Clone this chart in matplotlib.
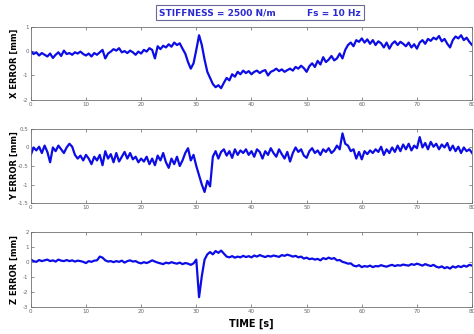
import matplotlib
matplotlib.use("Agg")
import matplotlib.pyplot as plt
import numpy as np

# time base (Fs shown = 10 Hz, values read every 0.5 s)
time_s = np.arange(0, 80.01, 0.5)

x_error = [
    0.00, -0.12, -0.05, -0.18, -0.08, -0.15, -0.22, -0.10, -0.28, -0.15,
    -0.05, -0.20, 0.02, -0.12, -0.08, -0.15, -0.05, -0.10, -0.02, -0.12,
    -0.18, -0.10, -0.22, -0.08, -0.15, -0.05, 0.05, -0.30, -0.10, -0.02,
    0.08, 0.02, 0.12, -0.05, 0.00, -0.08, 0.02, -0.05, -0.15, -0.02,
    -0.10, 0.05, -0.02, 0.12, 0.05, -0.30, 0.20, 0.08, 0.22, 0.15,
    0.28, 0.18, 0.35, 0.25, 0.32, 0.10, -0.10, -0.45, -0.72, -0.50,
    0.05, 0.65, 0.25, -0.35, -0.85, -1.10, -1.35, -1.48, -1.40, -1.52,
    -1.30, -1.10, -1.20, -0.95, -1.05, -0.85, -0.95, -0.80, -0.90, -0.82,
    -0.95, -0.85, -0.80, -0.90, -0.82, -0.78, -1.00, -0.85, -0.80, -0.72,
    -0.82, -0.75, -0.85, -0.78, -0.72, -0.80, -0.65, -0.72, -0.60, -0.70,
    -0.85, -0.62, -0.50, -0.65, -0.40, -0.55, -0.25, -0.45, -0.35, -0.20,
    -0.38, -0.30, -0.10, -0.30, 0.05, 0.25, 0.35, 0.20, 0.45, 0.38,
    0.52, 0.35, 0.48, 0.30, 0.45, 0.25, 0.40, 0.32, 0.15, 0.35,
    0.10, 0.30, 0.40, 0.25, 0.38, 0.30, 0.20, 0.35, 0.15, 0.28,
    0.10, 0.35, 0.45, 0.30, 0.50, 0.42, 0.55, 0.48, 0.62, 0.40,
    0.50, 0.30, 0.15, 0.45, 0.60, 0.52, 0.65, 0.45, 0.55, 0.38,
    0.25,
]

y_error = [
    -0.20, 0.00, -0.08, 0.02, -0.15, 0.05, -0.12, -0.40, 0.00, -0.10,
    0.05, -0.05, -0.15, 0.00, 0.10, 0.02, -0.20, -0.30, -0.22, -0.35,
    -0.20, -0.30, -0.45, -0.25, -0.35, -0.20, -0.48, -0.10, -0.30, -0.18,
    -0.40, -0.15, -0.38, -0.25, -0.12, -0.30, -0.15, -0.32, -0.25, -0.40,
    -0.30, -0.38, -0.25, -0.45, -0.30, -0.48, -0.22, -0.35, -0.15, -0.40,
    -0.55, -0.30, -0.45, -0.25, -0.50, -0.35, -0.15, -0.02, -0.35, -0.20,
    -0.50, -0.75, -1.00, -1.20, -0.90, -1.05, -0.25, -0.10, -0.30, -0.12,
    -0.05, -0.22, -0.10, -0.28, -0.05, -0.20, -0.08, -0.15, -0.05, -0.20,
    -0.10, -0.25, -0.05, -0.12, -0.30, -0.10, -0.20, -0.02, -0.15, -0.25,
    -0.05, -0.18, -0.30, -0.12, -0.38, -0.15, 0.00, -0.12, -0.05, -0.22,
    -0.28, -0.10, -0.02, -0.15, -0.08, -0.20, -0.05, -0.12, -0.02, -0.15,
    -0.08, 0.05, -0.05, 0.38, 0.10, 0.05, -0.10, -0.05, -0.30, -0.12,
    -0.32, -0.10, -0.18, -0.08, -0.15, -0.05, -0.12, 0.02, -0.20, -0.05,
    -0.15, 0.00, -0.12, 0.05, -0.10, 0.08, -0.05, 0.10, -0.08, 0.05,
    -0.02, 0.28, 0.00, 0.12, -0.05, 0.15, 0.02, 0.10, -0.05, 0.08,
    0.00, 0.12, -0.08, 0.05, -0.10, 0.02, -0.15, 0.00, -0.10, -0.05,
    -0.15,
]

z_error = [
    0.15, 0.05, 0.00, 0.12, 0.05, 0.10, 0.15, 0.05, 0.10, 0.02,
    0.15, 0.08, 0.05, 0.12, 0.05, 0.10, 0.02, 0.08, 0.05, 0.00,
    -0.08, 0.05, 0.00, 0.08, 0.10, 0.35, 0.28, 0.10, 0.02, 0.05,
    -0.02, 0.05, 0.00, 0.08, -0.05, 0.05, 0.10, 0.02, 0.05, -0.05,
    -0.10, -0.02, -0.08, 0.00, 0.10, 0.02, -0.05, -0.10, -0.15, -0.05,
    -0.10, -0.02, -0.08, -0.12, -0.05, -0.15, -0.08, -0.12, -0.20, -0.10,
    0.15, -2.35, -0.95, 0.15, 0.50, 0.65, 0.50, 0.72, 0.60, 0.75,
    0.55, 0.35, 0.30, 0.38, 0.28, 0.35, 0.30, 0.40, 0.32, 0.38,
    0.30, 0.42, 0.35, 0.45, 0.38, 0.32, 0.40, 0.35, 0.42, 0.38,
    0.33, 0.45, 0.40, 0.48, 0.42, 0.35, 0.40, 0.30, 0.35, 0.22,
    0.28, 0.18, 0.22, 0.15, 0.20, 0.10, 0.25, 0.18, 0.28, 0.20,
    0.25, 0.10, 0.12, 0.00, -0.05, -0.12, -0.10, -0.25, -0.30, -0.22,
    -0.35, -0.28, -0.32, -0.25, -0.35, -0.28, -0.30, -0.22, -0.28, -0.32,
    -0.25, -0.20, -0.28, -0.22, -0.25, -0.18, -0.22, -0.25, -0.15, -0.20,
    -0.12, -0.18, -0.25, -0.15, -0.22, -0.28, -0.20, -0.32, -0.38, -0.30,
    -0.42, -0.35, -0.45, -0.30, -0.38, -0.28, -0.35, -0.25, -0.32, -0.20,
    -0.25,
]

panels = [
    (x_error, "X ERROR [mm]", (-2, 1), [-2, -1, 0, 1], ["-2", "-1", "0", "1"]),
    (y_error, "Y ERROR [mm]", (-1.5, 0.5), [-1.5, -1, -0.5, 0, 0.5],
     ["-1.5", "-1", "-0.5", "0", "0.5"]),
    (z_error, "Z ERROR [mm]", (-3, 2), [-3, -2, -1, 0, 1, 2],
     ["-3", "-2", "-1", "0", "1", "2"]),
]
x_ticks = [0, 10, 20, 30, 40, 50, 60, 70, 80]

# axes boxes in figure fraction [left, bottom, width, height]
boxes = [
    [0.065, 0.701, 0.931, 0.219],
    [0.065, 0.392, 0.931, 0.222],
    [0.065, 0.081, 0.931, 0.225],
]

fig = plt.figure(figsize=(4.74, 3.34), dpi=100)

for (vals, label, ylim, yt, ytl), box in zip(panels, boxes):
    ax = fig.add_axes(box)
    ax.plot(time_s, vals, color="#0c0ce6", linewidth=1.6)
    ax.set_xlim(0, 80)
    ax.set_ylim(*ylim)
    ax.set_xticks(x_ticks)
    ax.set_xticklabels([str(t) for t in x_ticks])
    ax.set_yticks(yt)
    ax.set_yticklabels(ytl)
    ax.tick_params(direction="in", top=True, right=True, length=2.5,
                   width=0.5, color="#606060", labelsize=4,
                   labelcolor="#666666", pad=1.5)
    for sp in ax.spines.values():
        sp.set_color("#707070")
        sp.set_linewidth(0.6)
    ax.set_ylabel(label, fontsize=6, fontweight="bold", labelpad=2)
    ax.yaxis.set_label_coords(-0.027, 0.5)

fig.text(0.53, 0.03, "TIME [s]", fontsize=7, fontweight="bold",
         ha="center", va="center")

fig.text(0.549, 0.962, "STIFFNESS = 2500 N/m          Fs = 10 Hz",
         fontsize=6.5, fontweight="bold", color="#2a2ad0",
         ha="center", va="center",
         bbox=dict(boxstyle="square,pad=0.35", facecolor="white",
                   edgecolor="#6a6a9a", linewidth=0.8))

fig.savefig("out.png", dpi=100)
